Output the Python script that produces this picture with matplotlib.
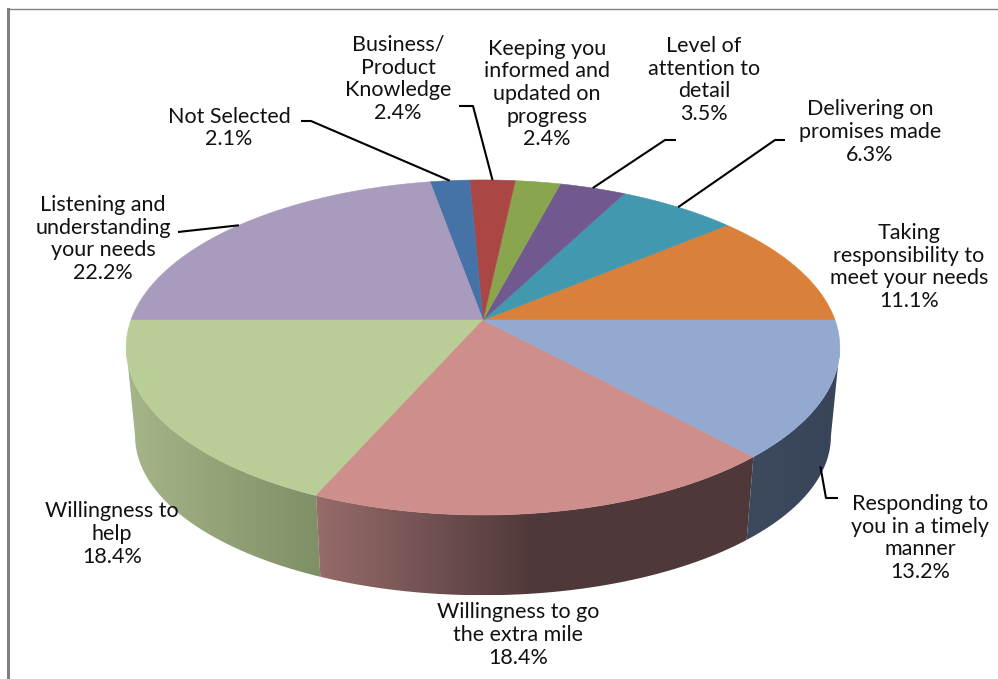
"""
3D pie chart of what customers valued most, drawn by hand with a
perspective-projected disc so the wedges and side wall line up.
"""

import matplotlib
matplotlib.use('Agg')
import matplotlib.pyplot as plt
from matplotlib.colors import LinearSegmentedColormap
from matplotlib.patches import Polygon
import numpy as np

plt.rcParams['font.family'] = ['Lato', 'DejaVu Sans']

# data, counter-clockwise from the 3 o'clock position
labels = ['Taking\nresponsibility to\nmeet your needs',
          'Delivering on\npromises made',
          'Level of\nattention to\ndetail',
          'Keeping you\ninformed and\nupdated on\nprogress',
          'Business/\nProduct\nKnowledge',
          'Not Selected',
          'Listening and\nunderstanding\nyour needs',
          'Willingness to\nhelp',
          'Willingness to go\nthe extra mile',
          'Responding to\nyou in a timely\nmanner']
values = [11.1, 6.3, 3.5, 2.4, 2.4, 2.1, 22.2, 18.4, 18.4, 13.2]
colors = ['#d9813b', '#4198af', '#71588f', '#89a54e', '#aa4643',
          '#4572a7', '#a99bbd', '#b9cd96', '#ce8e8c', '#93a9cf']

# side wall shading, left to right, for the wedges that face the viewer
wall_shades = {7: ['#a6b689', '#7f8f66'],
               8: ['#976c6a', '#4f3839', '#4f3839'],
               9: ['#3d495c', '#38445a']}

# label block centres and the elbow of each leader line (pixels)
label_pos = [(909, 267), (870, 132), (704, 80), (547, 94), (398, 79),
             (229, 128), (103, 239), (112, 534), (518, 635), (920, 538)]
leaders = {1: [(785, 140), (775, 140)],
           2: [(676, 140), (665, 140)],
           4: [(459, 106), (473, 106)],
           5: [(301, 121), (311, 121)],
           6: [(178, 232)],
           9: [(838, 498), (826, 498)]}

# disc geometry
cx, cy = 483, 320
rx, ry = 352, 163
persp = 0.164
wall_drop = 90
wall_sx, wall_sy = 0.975, 0.95


def top_ring(t):
    d = 1 + persp * np.sin(t)
    return cx + rx * np.cos(t) / d, cy - ry * np.sin(t) / d


def bottom_ring(t):
    d = 1 + persp * np.sin(t)
    return (cx + wall_sx * rx * np.cos(t) / d,
            cy + wall_drop - wall_sy * ry * np.sin(t) / d)


fig = plt.figure(figsize=(9.98, 6.79), dpi=100)
ax = fig.add_axes([0, 0, 1, 1])

edges = np.cumsum([0] + values) / sum(values) * 2 * np.pi

# widest points of the projected disc bound the visible wall
left_limit = np.pi + np.arcsin(persp)
right_limit = 2 * np.pi - np.arcsin(persp)

# side wall, shaded along x
for i, shades in wall_shades.items():
    t = np.linspace(max(edges[i], left_limit), min(edges[i + 1], right_limit), 80)
    xt, yt = top_ring(t)
    xb, yb = bottom_ring(t)
    pts = np.column_stack([np.r_[xt, xb[::-1]], np.r_[yt, yb[::-1]]])
    wall = Polygon(pts, closed=True, facecolor='none', edgecolor='none')
    ax.add_patch(wall)
    cmap = LinearSegmentedColormap.from_list('wall%d' % i, shades)
    img = ax.imshow(np.linspace(0, 1, 256).reshape(1, -1), cmap=cmap, aspect='auto',
                    extent=(pts[:, 0].min(), pts[:, 0].max(), pts[:, 1].max(), pts[:, 1].min()),
                    interpolation='bilinear', zorder=2)
    img.set_clip_path(wall)

# top face
for i, color in enumerate(colors):
    t = np.linspace(edges[i], edges[i + 1], 120)
    x, y = top_ring(t)
    pts = np.column_stack([np.r_[cx, x], np.r_[cy, y]])
    ax.add_patch(Polygon(pts, closed=True, facecolor=color, edgecolor=color,
                         linewidth=0.4, zorder=3))

# leader lines run from the middle of each wedge's outer edge
for i, elbow in leaders.items():
    mid = (edges[i] + edges[i + 1]) / 2
    if i == 9:
        # this one lands on the side wall
        xt, yt = top_ring(mid)
        xb, yb = bottom_ring(mid)
        end = (xt + 0.88 * (xb - xt), yt + 0.88 * (yb - yt))
    else:
        end = top_ring(mid)
    xs, ys = zip(*(elbow + [end]))
    ax.plot(xs, ys, color='black', linewidth=1.5, solid_capstyle='butt', zorder=4)

# data labels
for label, value, (x, y) in zip(labels, values, label_pos):
    ax.text(x, y, f'{label}\n{value}%', ha='center', va='center', fontsize=15.5,
            linespacing=1.17, color='#111111', zorder=5)

# chart frame, cut off by the right and bottom of the image
ax.plot([8.5, 8.5], [9, 679], color='#808080', linewidth=2.2, zorder=1)
ax.plot([8, 998], [9.3, 9.3], color='#808080', linewidth=1.0, zorder=1)

ax.set_xlim(0, 998)
ax.set_ylim(679, 0)
ax.axis('off')

fig.savefig('out.png', dpi=100, facecolor='white')
plt.close(fig)
